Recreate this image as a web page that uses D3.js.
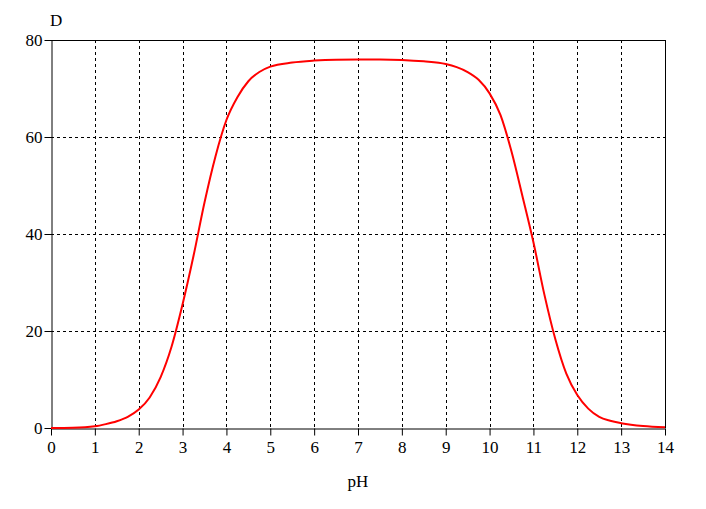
<!DOCTYPE html>
<html>
<head>
<meta charset="utf-8">
<script src="https://cdn.jsdelivr.net/npm/d3@7"></script>
<style>
  body { margin: 0; background: #fff; }
  svg text { font-family: "Liberation Serif", "Times New Roman", serif; font-size: 17px; fill: #000; }
</style>
</head>
<body>
<div id="vis"></div>
<script>
const FRAME_WIDTH = 706;
const FRAME_HEIGHT = 509;
const MARGINS = {left: 51, right: 41, top: 40, bottom: 81};

// values
const phValues = [0, 0.5, 1, 1.25, 1.5, 1.75, 2, 2.25, 2.5, 2.75, 3, 3.25, 3.5, 3.75, 4, 4.25, 4.5, 4.75, 5, 5.5, 6, 6.5, 7, 7.5, 8, 8.5, 9, 9.25, 9.5, 9.75, 10, 10.25, 10.5, 10.75, 11, 11.25, 11.5, 11.75, 12, 12.25, 12.5, 12.75, 13, 13.5, 14];
const dValues  = [0, 0.05, 0.35, 0.8, 1.4, 2.3, 3.8, 6.3, 10.5, 16.8, 25.5, 35.5, 46.5, 56, 63.5, 68.2, 71.5, 73.4, 74.5, 75.35, 75.75, 75.95, 76, 76, 75.9, 75.6, 75.05, 74.4, 73.4, 71.8, 69, 64.5, 57, 47.8, 38.3, 27.5, 18.3, 11.2, 6.8, 4.0, 2.3, 1.5, 1.0, 0.4, 0.15];

const xTicks = d3.range(0, 15, 1);
const yTicks = [0, 20, 40, 60, 80];

const VIS_WIDTH = FRAME_WIDTH - MARGINS.left - MARGINS.right;
const VIS_HEIGHT = FRAME_HEIGHT - MARGINS.top - MARGINS.bottom;

const svg = d3.select("#vis")
  .append("svg")
    .attr("width", FRAME_WIDTH)
    .attr("height", FRAME_HEIGHT);

const X_SCALE = d3.scaleLinear().domain([0, 14]).range([0, VIS_WIDTH]);
const Y_SCALE = d3.scaleLinear().domain([0, 80]).range([VIS_HEIGHT, 0]);

const g = svg.append("g")
  .attr("transform", "translate(" + MARGINS.left + "," + MARGINS.top + ")");

// dashed grid
g.selectAll(".vgrid")
  .data(xTicks.filter(d => d > 0 && d < 14))
  .enter().append("line")
    .attr("x1", d => Math.round(X_SCALE(d)) + 0.5)
    .attr("x2", d => Math.round(X_SCALE(d)) + 0.5)
    .attr("y1", 0).attr("y2", VIS_HEIGHT)
    .attr("stroke", "#000").attr("stroke-dasharray", "3,3");

g.selectAll(".hgrid")
  .data(yTicks.filter(d => d > 0 && d < 80))
  .enter().append("line")
    .attr("y1", d => Math.round(Y_SCALE(d)) + 0.5)
    .attr("y2", d => Math.round(Y_SCALE(d)) + 0.5)
    .attr("x1", 0).attr("x2", VIS_WIDTH)
    .attr("stroke", "#000").attr("stroke-dasharray", "3,3");

// frame top/right
g.append("line").attr("x1", 0).attr("x2", VIS_WIDTH).attr("y1", 0.5).attr("y2", 0.5).attr("stroke", "#000");
g.append("line").attr("x1", VIS_WIDTH + 0.5).attr("x2", VIS_WIDTH + 0.5).attr("y1", 0).attr("y2", VIS_HEIGHT).attr("stroke", "#000");

// axes
const xAxis = g.append("g")
  .attr("transform", "translate(0," + (VIS_HEIGHT + 0.5) + ")")
  .call(d3.axisBottom(X_SCALE).tickValues(xTicks).tickSize(7).tickPadding(5).tickSizeOuter(0));
const yAxis = g.append("g")
  .attr("transform", "translate(0.5,0)")
  .call(d3.axisLeft(Y_SCALE).tickValues(yTicks).tickSize(7).tickPadding(2).tickSizeOuter(0));

[xAxis, yAxis].forEach(a => {
  a.attr("font-family", null).attr("font-size", null);
  a.selectAll("path, line").attr("stroke", "#000");
  a.selectAll("text").attr("fill", "#000");
});

// curve
const line = d3.line()
  .x((d, i) => X_SCALE(phValues[i]))
  .y(d => Y_SCALE(d))
  .curve(d3.curveMonotoneX);

g.append("path")
  .datum(dValues)
  .attr("d", line)
  .attr("fill", "none")
  .attr("stroke", "#ff0000")
  .attr("stroke-width", 2);

// labels
svg.append("text").attr("x", 50).attr("y", 26).text("D");
svg.append("text").attr("x", MARGINS.left + X_SCALE(7)).attr("y", 487)
  .attr("text-anchor", "middle").text("pH");
</script>
</body>
</html>
